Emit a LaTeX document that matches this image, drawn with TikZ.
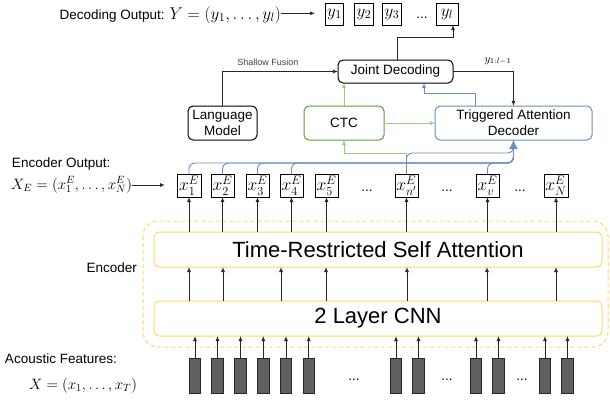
\RequirePackage{fix-cm}
\documentclass[tikz,border=0pt]{standalone}
\usepackage{fontspec}
\setmainfont{Liberation Sans}
\usetikzlibrary{arrows.meta,calc}
\definecolor{cyel}{HTML}{FFD966}
\definecolor{cblue}{HTML}{6C8EBF}
\definecolor{cgreenb}{HTML}{5A9E32}
\definecolor{cgreena}{HTML}{97D077}
\definecolor{cbar}{HTML}{606060}
\begin{document}
\begin{tikzpicture}[x=1pt,y=-1pt,
  every node/.style={inner sep=0pt, outer sep=0pt},
  lbl/.style={font=\fontsize{13.5}{16}\selectfont},
  rbox/.style={draw, rounded corners=5pt, line width=1pt, align=center, font=\fontsize{13.5}{16}\selectfont},
  ybox/.style={draw, line width=1pt, minimum height=22pt, font=\fontsize{17}{17}\selectfont},
  xbox/.style={draw, line width=1pt, minimum height=23pt, minimum width=23pt, font=\fontsize{17.5}{17.5}\selectfont},
  encbox/.style={draw=cyel, rounded corners=5pt, line width=1pt, minimum width=448pt, minimum height=35pt, font=\fontsize{22}{24}\selectfont},
  bar/.style={draw=black!85, fill=cbar, line width=0.8pt, minimum width=11.5pt, minimum height=35pt},
  arr/.style={draw=black!85, line width=0.9pt, -{Latex[length=5pt,width=4pt]}},
  garr/.style={draw=cgreena, line width=0.9pt, -{Latex[length=5pt,width=4pt]}},
  barr/.style={draw=cblue, line width=0.9pt, -{Latex[length=5pt,width=4pt]}},
  bline/.style={draw=cblue, line width=0.9pt, rounded corners=6pt},
  dots/.style={font=\fontsize{13.5}{16}\selectfont}
]
\useasboundingbox (0,0) rectangle (610,402);

% encoder group
\draw[cyel, dash pattern=on 4pt off 3pt, line width=1pt, rounded corners=15pt] (143,221) rectangle (608,347);
\node[encbox] (trsa) at (378,249.5) {Time-Restricted Self Attention};
\node[encbox] (cnn) at (378,318.5) {2 Layer CNN};
\node[lbl, anchor=east] (enc) at (137,268) {Encoder};

% upper boxes
\node[rbox, minimum width=69pt, minimum height=34pt] (lm) at (222.5,123) {Language\\Model};
\node[rbox, draw=cgreenb, minimum width=80pt, minimum height=34pt] (ctc) at (344,123) {CTC};
\node[rbox, draw=cblue, minimum width=157pt, minimum height=34pt] (ta) at (513.5,123) {Triggered Attention\\Decoder};
\node[rbox, minimum width=115pt, minimum height=23pt] (jd) at (395.5,71.5) {Joint Decoding};

% output tokens
\node[ybox, minimum width=18pt] (y1) at (334.5,14) {$y_1$};
\node[ybox, minimum width=19pt] (y2) at (364,14) {$y_2$};
\node[ybox, minimum width=19pt] (y3) at (392,14) {$y_3$};
\node[dots] (yd) at (422,18) {...};
\node[ybox, minimum width=22pt] (yl) at (447,14) {$y_l$};

% encoder outputs
\node[xbox, minimum width=24pt] (x1) at (189,185.5) {$x^E_1$};
\node[xbox] (x2) at (222.5,185.5) {$x^E_2$};
\node[xbox] (x3) at (257.5,185.5) {$x^E_3$};
\node[xbox] (x4) at (291.5,185.5) {$x^E_4$};
\node[xbox] (x5) at (326.5,185.5) {$x^E_5$};
\node[dots] (xd1) at (367,191) {...};
\node[xbox] (xn) at (406.5,185.5) {$x^E_{n'}$};
\node[dots] (xd2) at (447,191) {...};
\node[xbox] (xv) at (487.5,185.5) {$x^E_v$};
\node[dots] (xd3) at (520,191) {...};
\node[xbox, minimum width=24pt] (xN) at (556,185.5) {$x^E_N$};

% labels
\node[lbl, anchor=base east] (dout) at (281,19) {Decoding Output: \fontsize{17}{17}\selectfont$Y=(y_1,\ldots,y_l)$};
\coordinate (doutend) at (315,13.3);
\draw[arr] (dout.east |- doutend) -- (doutend);
\node[lbl, anchor=west] (eout) at (12,164) {Encoder Output:};
\node[anchor=base east, font=\fontsize{15}{15}\selectfont] (xe) at (132,189) {$X_E=(x^E_1,\ldots,x^E_N)$};
\coordinate (xeend) at (165,185);
\draw[arr] (xe.east |- xeend) -- (xeend);
\node[lbl, anchor=west] (af) at (5,359) {Acoustic Features:};
\node[anchor=base east, font=\fontsize{15}{15}\selectfont] (xf) at (137,389) {$X=(x_1,\ldots,x_T)$};

% features
\foreach \cx [count=\i] in {195,217.5,240.5,263.3,286,308.8,396,418.5,476,498.5,545,567.5} {
  \node[bar] (b\i) at (\cx,375.5) {};
  \draw[arr] (b\i.north) -- (b\i.north |- cnn.south);
}
\node[dots] (bd1) at (354,380) {...};
\node[dots] (bd2) at (447,380) {...};
\node[dots] (bd3) at (522,380) {...};

% CNN -> TRSA
\foreach \cx [count=\i] in {189,223,281,326,407,487,556} {
  \coordinate (c\i) at (\cx,0 |- cnn.north);
  \draw[arr] (c\i) -- (c\i |- trsa.south);
}
% TRSA -> outputs
\foreach \n in {x1,x2,x3,x4,x5,xn,xv,xN} {
  \draw[arr] (\n.south |- trsa.north) -- (\n.south);
}

% top connectors
\draw[arr] (lm.north) |- (jd.west);
\node[font=\fontsize{9}{10}\selectfont, text=black!75] (sf) at (268,62) {Shallow Fusion};
\draw[garr] (ctc.north) -- (ctc.north |- jd.south);
\draw[garr] (ctc.east) -- (ta.west);
\coordinate (jt) at (453,37);
\draw[arr] ([xshift=1.5pt]jd.north) |- (jt) -- (jt |- yl.south);
\draw[arr] (jd.east) -| (ta.north);
\node[font=\fontsize{11}{11}\selectfont] (ylab) at (498,61) {$y_{1:l-1}$};
\coordinate (bt) at (475,93);
\draw[barr] (bt |- ta.north) -- (bt) -| ([xshift=28.5pt]jd.south);

% green from x_n' to CTC
\coordinate (gn) at (344,153);
\draw[garr] (xn.north) |- (gn) -- (ctc.south);

% blue to triggered attention decoder
\coordinate (bh) at (ta.south |- 0,163);
\coordinate (bh2) at (ta.south |- 0,153);
\foreach \n in {x1,x2,x3,x4,xv} {
  \draw[bline] (\n.north) |- (bh) -- (ta.south);
}
\draw[bline] (xn.north) |- (bh2) -- (ta.south);
\coordinate (bat) at (ta.south |- 0,151);
\draw[draw=cblue, line width=0.9pt, -{Latex[length=9pt,width=9pt]}] (bat) -- (ta.south);
\end{tikzpicture}
\end{document}
